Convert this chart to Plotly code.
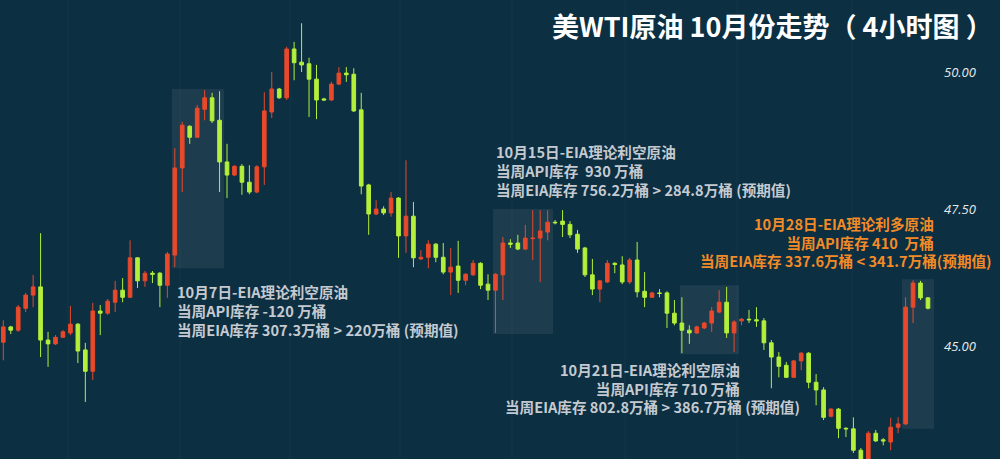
import plotly.graph_objects as go

# OHLC values (one candle per entry)
open_ = [45.07, 45.35, 45.29, 45.69, 45.93, 46.08, 45.11, 45.04, 45.16, 45.24,
         45.40, 44.93, 44.54, 45.64, 45.60, 45.80, 46.02, 45.89, 46.61, 46.19,
         46.33, 46.33, 46.11, 46.66, 48.25, 49.01, 48.81, 49.32, 49.53, 49.12,
         48.36, 48.12, 48.28, 47.99, 47.81, 48.27, 49.27, 49.69, 49.53, 50.42,
         50.18, 50.15, 49.87, 49.51, 49.49, 49.78, 49.98, 49.96, 49.31, 47.94,
         47.41, 47.50, 47.43, 47.70, 47.01, 47.37, 46.59, 46.62, 46.86, 46.62,
         46.35, 46.46, 46.20, 46.30, 46.51, 46.13, 46.02, 46.30, 46.88, 46.88,
         46.77, 46.96, 46.97, 47.08, 47.26, 47.28, 47.22, 47.04, 46.79, 46.30,
         46.04, 46.17, 46.51, 46.48, 46.17, 46.57, 46.00, 45.89, 45.97, 45.97,
         45.60, 45.42, 45.29, 45.24, 45.33, 45.42, 45.62, 45.80, 45.24, 45.46,
         45.49, 45.48, 45.46, 45.06, 44.80, 44.65, 44.43, 44.73, 44.87, 44.34,
         44.20, 43.72, 43.85, 43.50, 43.49, 43.10, 42.83, 43.41, 43.29, 43.25,
         43.52, 43.58, 45.71, 46.15, 45.88]
high = [45.47, 45.37, 45.75, 45.97, 46.30, 47.06, 45.26, 45.20, 45.29, 45.73,
        45.42, 45.06, 45.79, 45.75, 45.86, 46.19, 46.24, 46.93, 46.62, 46.37,
        46.37, 46.35, 46.72, 48.61, 49.09, 49.03, 49.40, 49.67, 49.62, 49.65,
        48.69, 48.30, 48.32, 48.30, 48.30, 49.63, 50.00, 49.71, 50.46, 50.55,
        50.89, 50.26, 50.13, 49.53, 49.82, 50.09, 50.09, 50.07, 49.62, 47.96,
        47.66, 47.55, 47.81, 47.72, 48.39, 47.63, 46.75, 46.93, 46.88, 46.88,
        46.79, 46.92, 46.33, 46.57, 46.53, 46.31, 46.33, 46.99, 46.95, 47.03,
        47.21, 47.48, 47.48, 47.48, 47.30, 47.48, 47.28, 47.12, 46.81, 46.59,
        46.20, 46.57, 46.53, 46.64, 46.61, 46.90, 46.35, 45.99, 46.04, 46.00,
        45.84, 45.89, 45.38, 45.37, 45.44, 45.71, 46.02, 46.08, 45.47, 45.51,
        45.66, 45.71, 45.51, 45.11, 44.89, 44.71, 44.74, 44.89, 44.89, 44.49,
        44.25, 43.87, 43.87, 43.52, 43.70, 43.14, 43.45, 43.47, 43.32, 43.69,
        43.70, 45.89, 46.20, 46.19, 45.89]
low = [44.74, 45.22, 45.26, 45.62, 45.71, 44.80, 44.62, 45.02, 45.15, 45.20,
       44.69, 43.98, 44.38, 45.20, 45.57, 45.62, 45.80, 45.88, 46.06, 46.08,
       46.15, 45.71, 45.88, 46.44, 47.81, 48.69, 48.80, 49.12, 49.07, 47.81,
       47.70, 48.10, 47.76, 47.77, 47.79, 47.94, 49.16, 49.51, 49.49, 49.85,
       50.00, 49.18, 49.14, 49.47, 49.47, 49.76, 49.82, 49.27, 47.77, 47.03,
       47.39, 47.39, 47.36, 46.61, 46.70, 46.44, 46.57, 46.42, 46.53, 46.31,
       45.93, 45.97, 46.11, 46.28, 46.04, 45.84, 45.24, 45.84, 46.79, 46.75,
       46.75, 46.57, 46.17, 46.93, 47.22, 46.99, 46.97, 46.70, 46.26, 45.93,
       45.80, 46.15, 46.33, 46.13, 46.13, 45.89, 45.71, 45.88, 45.89, 45.33,
       45.38, 44.87, 45.04, 45.22, 45.31, 45.26, 45.60, 45.15, 44.89, 45.38,
       45.42, 45.35, 44.93, 44.23, 44.43, 44.42, 44.42, 44.56, 44.23, 43.92,
       43.65, 43.70, 43.32, 43.34, 43.05, 42.65, 42.70, 43.25, 43.19, 43.10,
       43.41, 43.56, 45.42, 45.84, 45.67]
close = [45.35, 45.29, 45.71, 45.93, 46.08, 45.11, 45.04, 45.16, 45.26, 45.40,
         44.91, 44.54, 45.64, 45.60, 45.82, 46.02, 45.89, 46.61, 46.19, 46.33,
         46.31, 46.11, 46.68, 48.25, 49.03, 48.81, 49.34, 49.53, 49.11, 48.36,
         48.12, 48.28, 47.99, 47.81, 48.27, 49.29, 49.69, 49.53, 50.42, 50.17,
         50.13, 49.87, 49.49, 49.49, 49.78, 49.98, 49.95, 49.29, 47.92, 47.41,
         47.50, 47.43, 47.70, 47.01, 47.37, 46.61, 46.62, 46.86, 46.62, 46.35,
         46.44, 46.20, 46.31, 46.51, 46.11, 46.02, 46.31, 46.88, 46.86, 46.77,
         46.97, 46.97, 47.10, 47.26, 47.25, 47.22, 47.03, 46.77, 46.30, 46.04,
         46.19, 46.51, 46.49, 46.17, 46.57, 45.99, 45.89, 45.97, 45.96, 45.60,
         45.42, 45.29, 45.24, 45.35, 45.42, 45.64, 45.80, 45.24, 45.44, 45.49,
         45.48, 45.46, 45.06, 44.80, 44.63, 44.43, 44.73, 44.87, 44.34, 44.20,
         43.70, 43.85, 43.50, 43.49, 43.10, 42.77, 43.41, 43.27, 43.27, 43.52,
         43.58, 45.71, 46.15, 45.88, 45.69]

price_ticks = [45.0, 47.5, 50.0]
price_tick_labels = ["45.00", "47.50", "50.00"]

title_text = "美WTI原油 10月份走势（ 4小时图 ）"

# text blocks: (lines, x_px, y_px of block centre, anchor)
notes_gray = [
    (["10月7日-EIA理论利空原油", "当周API库存 -120 万桶",
      "当周EIA库存 307.3万桶 > 220万桶 (预期值)"], 175, 310, "left"),
    (["10月15日-EIA理论利空原油", "当周API库存  930 万桶",
      "当周EIA库存 756.2万桶 > 284.8万桶 (预期值)"], 494, 170, "left"),
    (["10月21日-EIA理论利空原油", "当周API库存 710 万桶"], 742, 379, "right"),
    (["当周EIA库存 802.8万桶 > 386.7万桶 (预期值)"], 802, 406, "right"),
]
notes_orange = [
    (["10月28日-EIA理论利多原油", "当周API库存 410  万桶"], 936, 233, "right"),
    (["当周EIA库存 337.6万桶 < 341.7万桶(预期值)"], 994, 260, "right"),
]

BG = "#0c2f42"
RED = "#e8492a"
GREEN = "#b4ef3a"
W, H = 1000, 459
PLOT_R = 937
X0, DX = 3.3, 7.457   # pixel centre of first candle, candle spacing
Y_TOP, Y_BOT = 51.314, 42.94

x = list(range(len(open_)))

fig = go.Figure()
fig.add_trace(go.Candlestick(
    x=x, open=open_, high=high, low=low, close=close,
    increasing=dict(line=dict(color=RED, width=1), fillcolor=RED),
    decreasing=dict(line=dict(color=GREEN, width=1), fillcolor=GREEN),
    whiskerwidth=0, showlegend=False, hoverinfo="skip",
))

def px_to_idx(px):
    return (px - X0) / DX

boxes = [(172, 224, 49.69, 46.42), (493, 553, 47.50, 45.22),
         (680, 739, 46.11, 44.85), (902, 934, 46.22, 43.49)]
shapes = []
for bx0, bx1, by1, by0 in boxes:
    shapes.append(dict(type="rect", xref="x", yref="y",
                       x0=px_to_idx(bx0), x1=px_to_idx(bx1), y0=by0, y1=by1,
                       fillcolor="rgba(255,255,255,0.07)", line=dict(width=0),
                       layer="below"))
for gx in [68, 180, 290, 400, 512, 625, 737, 852]:
    shapes.append(dict(type="line", xref="x", yref="paper",
                       x0=px_to_idx(gx), x1=px_to_idx(gx), y0=0, y1=1,
                       line=dict(color="rgba(255,255,255,0.035)", width=1),
                       layer="below"))

annotations = []
FONT = "Noto Sans CJK SC"
for group, col in ((notes_gray, "#c5cad0"), (notes_orange, "#f28b27")):
    for lines, px, py, al in group:
        annotations.append(dict(
            text="<br>".join("<b>%s</b>" % t for t in lines),
            xref="paper", yref="paper", align=al,
            x=px / PLOT_R, y=1 - py / H, xanchor=al, yanchor="middle",
            showarrow=False, font=dict(family=FONT, size=14.6, color=col)))
annotations.append(dict(
    text="<b>%s</b>" % title_text, xref="paper", yref="paper",
    x=995 / PLOT_R, y=1 - 26 / H, xanchor="right", yanchor="middle",
    showarrow=False, font=dict(family=FONT, size=27, color="#ffffff")))

fig.update_layout(
    width=W, height=H,
    paper_bgcolor=BG, plot_bgcolor=BG,
    margin=dict(l=0, r=W - PLOT_R, t=0, b=0),
    xaxis=dict(range=[px_to_idx(0), px_to_idx(PLOT_R)], visible=False,
               rangeslider=dict(visible=False), showgrid=False),
    yaxis=dict(range=[Y_BOT, Y_TOP], side="right", showgrid=False,
               zeroline=False, tickvals=price_ticks, ticktext=price_tick_labels,
               ticks="", ticklabelstandoff=6,
               tickfont=dict(family="Open Sans", size=13, color="#e6e9ec",
                             style="italic")),
    shapes=shapes, annotations=annotations,
)

fig.write_html(
    "out.html",
    config={"displayModeBar": False},
    post_script="document.body.style.margin='0';document.body.style.background='%s';" % BG,
)
